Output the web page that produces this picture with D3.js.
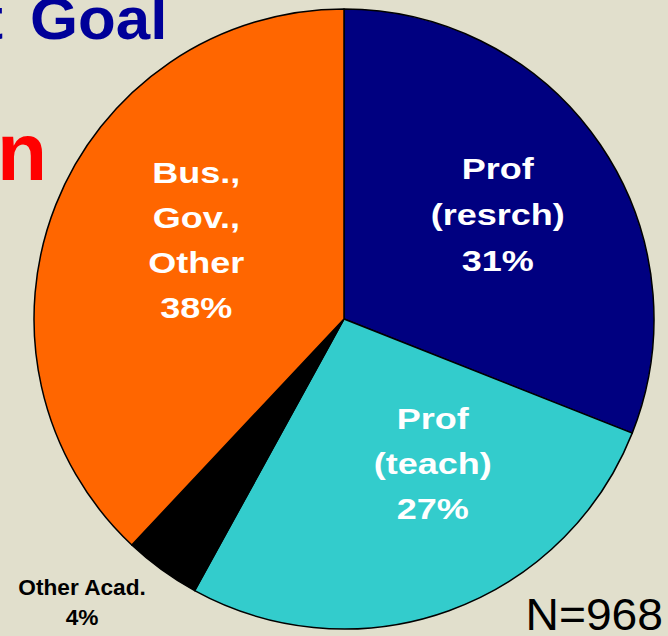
<!DOCTYPE html>
<html>
<head>
<meta charset="utf-8">
<script src="https://cdn.jsdelivr.net/npm/d3@7"></script>
<style>
  html, body { margin: 0; padding: 0; background: #e1dfcc; overflow: hidden; }
  text { font-family: Arial, "Liberation Sans", sans-serif; }
</style>
</head>
<body>
<div id="chart"></div>
<script>
// slide crop: pie of current career goal
var categories = ["Prof (resrch)", "Prof (teach)", "Other Acad.", "Bus., Gov., Other"];
var shares = [31, 27, 4, 38];
var labelLines = [
    ["Prof", "(resrch)", "31%"],
    ["Prof", "(teach)", "27%"],
    ["Other Acad.", "4%"],
    ["Bus.,", "Gov.,", "Other", "38%"]
];
var sliceColors = ["#000080", "#33cccc", "#000000", "#ff6600"];
var sampleNote = "N=968";

var svgWidth = 668;
var svgHeight = 636;

var svg = d3.select("#chart").append("svg")
    .attr("width", svgWidth)
    .attr("height", svgHeight);

// background
svg.append("rect")
    .attr("width", svgWidth)
    .attr("height", svgHeight)
    .attr("fill", "#e1dfcc");

// title pieces cut off by the crop
svg.append("text")
    .attr("x", 3)
    .attr("y", 39)
    .attr("text-anchor", "end")
    .attr("font-size", "60px")
    .attr("font-weight", "bold")
    .attr("fill", "#000099")
    .text("t");

svg.append("text")
    .attr("transform", "translate(30, 39) scale(1.03, 1)")
    .attr("font-size", "60px")
    .attr("font-weight", "bold")
    .attr("fill", "#000099")
    .text("Goal");

svg.append("text")
    .attr("x", 47)
    .attr("y", 180)
    .attr("text-anchor", "end")
    .attr("font-size", "82px")
    .attr("font-weight", "bold")
    .attr("fill", "#ff0000")
    .text("n");

var radius = 310;
var pieGroup = svg.append("g")
    .attr("transform", "translate(344, 319)");

var pie = d3.pie().sort(null).value(d => d);
var arcs = pie(shares);

var arc = d3.arc().innerRadius(0).outerRadius(radius);

pieGroup.selectAll("path")
    .data(arcs)
    .enter()
    .append("path")
    .attr("d", arc)
    .attr("fill", (d, i) => sliceColors[i])
    .attr("stroke", "#000")
    .attr("stroke-width", 1.5)
    .attr("stroke-linejoin", "round");

// label placement: radius factor and a small nudge per slice
var labelRadius = [0.6, 0.55, 1.24, 0.54];
var labelNudge = [[0, 0], [31, -16], [-36, -28], [8, -18]];
var labelSize = [30, 30, 22, 30];
var labelStretch = [1.2, 1.2, 1.03, 1.2];
var labelGap = [46, 45, 30, 45];
var labelFill = ["#fff", "#fff", "#000", "#fff"];

arcs.forEach(function(d, i) {
    var r = radius * labelRadius[i];
    var c = d3.arc().innerRadius(r).outerRadius(r).centroid(d);
    var cx = c[0] + labelNudge[i][0];
    var cy = c[1] + labelNudge[i][1];
    var lines = labelLines[i];
    var capH = 0.716 * labelSize[i];
    var firstBase = cy - (lines.length - 1) * labelGap[i] / 2 + capH / 2;

    var t = pieGroup.append("text")
        .attr("transform", `translate(${cx}, 0) scale(${labelStretch[i]}, 1)`)
        .attr("text-anchor", "middle")
        .attr("font-size", labelSize[i] + "px")
        .attr("font-weight", "bold")
        .attr("fill", labelFill[i]);

    lines.forEach(function(line, j) {
        t.append("tspan")
            .attr("x", 0)
            .attr("y", firstBase + j * labelGap[i])
            .text(line);
    });
});

svg.append("text")
    .attr("transform", "translate(663, 630) scale(1.05, 1)")
    .attr("text-anchor", "end")
    .attr("font-size", "44px")
    .attr("fill", "#000")
    .text(sampleNote);
</script>
</body>
</html>
